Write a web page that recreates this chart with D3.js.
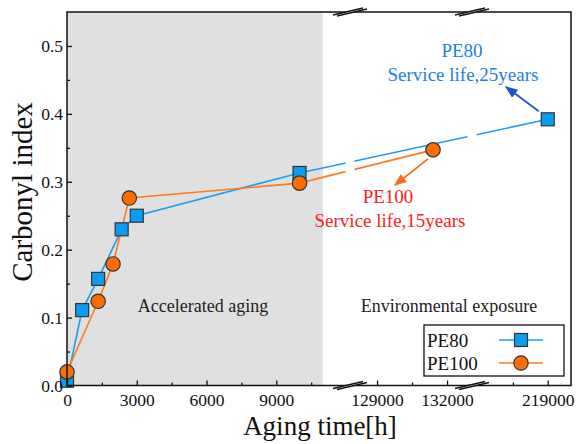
<!DOCTYPE html>
<html>
<head>
<meta charset="utf-8">
<script src="https://d3js.org/d3.v7.min.js"></script>
<style>
  body { margin: 0; background: #fff; }
  text { font-family: "Liberation Serif", "Times New Roman", serif; }
</style>
</head>
<body>
<div id="place"></div>
<script>
// data
const pe80Time = [0, 650, 1340, 2350, 3000, 10000, 219000];
const pe80Index = [0.007, 0.111, 0.157, 0.230, 0.250, 0.313, 0.392];
const pe100Time = [0, 1340, 1980, 2680, 10000, 131400];
const pe100Index = [0.020, 0.124, 0.179, 0.276, 0.298, 0.347];

const xMajor = [0, 3000, 6000, 9000, 129000, 132000, 219000];
const xMinor = [1500, 4500, 7500, 10500, 130500, 217500];
const yMajor = [0, 0.1, 0.2, 0.3, 0.4, 0.5];
const yMinor = [0.05, 0.15, 0.25, 0.35, 0.45];

// broken x axis: three pieces
const xDomain = [0, 12170, 127840, 133070, 215740, 220000];
const acceleratedEnd = 11000;

const W = 579, H = 444;
const pLeft = 67, pRight = 571, pTop = 12, pBottom = 385.5;
const breakPx = [350, 472];

const svg = d3.select("#place").append("svg")
  .attr("width", W).attr("height", H);

const x = d3.scaleLinear()
  .domain(xDomain)
  .range([pLeft, breakPx[0], breakPx[0], breakPx[1], breakPx[1], pRight]);

const y = d3.scaleLinear()
  .domain([0, 0.55])
  .range([pBottom, pTop]);

// grey region for accelerated aging
svg.append("rect")
  .attr("x", pLeft).attr("y", pTop)
  .attr("width", x(acceleratedEnd) - pLeft)
  .attr("height", pBottom - pTop)
  .attr("fill", "#e0e0e0");

// clip lines so they show a gap at each axis break
const gap = 4.5;
const clip = svg.append("clipPath").attr("id", "segs");
const edges = [pLeft, breakPx[0], breakPx[1], pRight];
for (let i = 0; i < 3; i++) {
  const a = i === 0 ? 0 : edges[i] + gap;
  const b = i === 2 ? W : edges[i + 1] - gap;
  clip.append("rect").attr("x", a).attr("y", 0).attr("width", b - a).attr("height", H);
}

const blue = "#1a9ff0", orange = "#ff7a1e";
const line = d3.line().x(d => x(d[0])).y(d => y(d[1]));
const pe80 = pe80Time.map((t, i) => [t, pe80Index[i]]);
const pe100 = pe100Time.map((t, i) => [t, pe100Index[i]]);

svg.append("path").datum(pe80)
  .attr("d", line).attr("fill", "none")
  .attr("stroke", blue).attr("stroke-width", 1.6)
  .attr("clip-path", "url(#segs)");
svg.append("path").datum(pe100)
  .attr("d", line).attr("fill", "none")
  .attr("stroke", orange).attr("stroke-width", 1.6)
  .attr("clip-path", "url(#segs)");

// markers
const sq = 13, rc = 7.2;
svg.append("g").selectAll("rect")
  .data(pe80).enter().append("rect")
  .attr("x", d => x(d[0]) - sq / 2)
  .attr("y", d => y(d[1]) - sq / 2)
  .attr("width", sq).attr("height", sq)
  .attr("fill", "#0a9cf2").attr("stroke", "#333").attr("stroke-width", 1.2);
svg.append("g").selectAll("circle")
  .data(pe100).enter().append("circle")
  .attr("cx", d => x(d[0]))
  .attr("cy", d => y(d[1]))
  .attr("r", rc)
  .attr("fill", "#ff6c00").attr("stroke", "#333").attr("stroke-width", 1.2);

// region labels
svg.append("text").attr("x", 203).attr("y", 312)
  .attr("text-anchor", "middle").attr("font-size", 18).attr("fill", "#222")
  .text("Accelerated aging");
svg.append("text").attr("x", 449).attr("y", 312)
  .attr("text-anchor", "middle").attr("font-size", 18).attr("fill", "#222")
  .text("Environmental exposure");

// arrow heads
const defs = svg.append("defs");
function marker(id, col) {
  defs.append("marker").attr("id", id)
    .attr("viewBox", "0 0 10 10").attr("refX", 9).attr("refY", 5)
    .attr("markerWidth", 7).attr("markerHeight", 7)
    .attr("orient", "auto")
    .append("path").attr("d", "M0,1 L10,5 L0,9 Z").attr("fill", col);
}
marker("ab", "#1f55c8");
marker("ao", "#f07020");

// PE80 note
svg.append("text").attr("x", 462).attr("y", 57)
  .attr("text-anchor", "middle").attr("font-size", 19).attr("fill", "#1c7fe6")
  .text("PE80");
svg.append("text").attr("x", 463).attr("y", 81)
  .attr("text-anchor", "middle").attr("font-size", 19).attr("fill", "#1c7fe6")
  .text("Service life,25years");
svg.append("line")
  .attr("x1", x(219000) - 9).attr("y1", y(0.392) - 8)
  .attr("x2", 506).attr("y2", 87)
  .attr("stroke", "#1f55c8").attr("stroke-width", 1.8)
  .attr("marker-end", "url(#ab)");

// PE100 note
svg.append("text").attr("x", 388).attr("y", 203)
  .attr("text-anchor", "middle").attr("font-size", 19).attr("fill", "#ff2020")
  .text("PE100");
svg.append("text").attr("x", 390).attr("y", 227)
  .attr("text-anchor", "middle").attr("font-size", 19).attr("fill", "#ff2020")
  .text("Service life,15years");
svg.append("line")
  .attr("x1", x(131400) - 5).attr("y1", y(0.347) + 9)
  .attr("x2", 395).attr("y2", 185)
  .attr("stroke", "#f07020").attr("stroke-width", 1.8)
  .attr("marker-end", "url(#ao)");

// frame
svg.append("rect")
  .attr("x", pLeft).attr("y", pTop)
  .attr("width", pRight - pLeft).attr("height", pBottom - pTop)
  .attr("fill", "none").attr("stroke", "#111").attr("stroke-width", 1.5);

// axes, ticks pointing inwards
svg.append("g").attr("transform", `translate(0,${pBottom})`)
  .call(d3.axisBottom(x).tickValues(xMajor).tickSize(-5).tickPadding(8)
    .tickFormat(d3.format("d")));
svg.append("g").attr("transform", `translate(0,${pBottom})`)
  .call(d3.axisBottom(x).tickValues(xMinor).tickSize(-3).tickFormat(""));
svg.append("g").attr("transform", `translate(${pLeft},0)`)
  .call(d3.axisLeft(y).tickValues(yMajor).tickSize(-5).tickPadding(4)
    .tickFormat(d3.format(".1f")));
svg.append("g").attr("transform", `translate(${pLeft},0)`)
  .call(d3.axisLeft(y).tickValues(yMinor).tickSize(-3).tickFormat(""));

svg.selectAll(".domain").remove();
svg.selectAll(".tick line").attr("stroke", "#111").attr("stroke-width", 1.3);
svg.selectAll(".tick text")
  .attr("font-family", "Liberation Serif, serif")
  .attr("font-size", 17.5).attr("fill", "#111");

// break marks on top and bottom edges
[pTop, pBottom].forEach(ey => {
  breakPx.forEach(bx => {
    svg.append("path")
      .attr("d", `M${bx - 17},${ey + 3} L${bx + 13},${ey - 4} L${bx + 17},${ey - 3} L${bx - 13},${ey + 4} Z`)
      .attr("fill", "#fff").attr("stroke", "none");
    svg.append("line").attr("x1", bx - 17).attr("y1", ey + 3)
      .attr("x2", bx + 13).attr("y2", ey - 4)
      .attr("stroke", "#111").attr("stroke-width", 1.3);
    svg.append("line").attr("x1", bx - 13).attr("y1", ey + 4)
      .attr("x2", bx + 17).attr("y2", ey - 3)
      .attr("stroke", "#111").attr("stroke-width", 1.3);
  });
});

// axis titles
svg.append("text")
  .attr("x", 320).attr("y", 435)
  .attr("text-anchor", "middle").attr("font-size", 27).attr("fill", "#111")
  .text("Aging time[h]");
svg.append("text")
  .attr("transform", "translate(32,192) rotate(-90)")
  .attr("text-anchor", "middle").attr("font-size", 29).attr("fill", "#111")
  .text("Carbonyl index");

// legend
const lg = svg.append("g");
lg.append("rect").attr("x", 424).attr("y", 325)
  .attr("width", 140).attr("height", 51)
  .attr("fill", "#fff").attr("stroke", "#111").attr("stroke-width", 1.3);
const items = [
  { name: "PE80", col: blue, fill: "#0a9cf2", shape: "square" },
  { name: "PE100", col: orange, fill: "#ff6c00", shape: "circle" }
];
items.forEach((it, i) => {
  const cy = 340 + i * 23;
  lg.append("text").attr("x", 427).attr("y", cy + 7)
    .attr("font-size", 19).attr("fill", "#111").text(it.name);
  lg.append("line").attr("x1", 499).attr("x2", 543)
    .attr("y1", cy).attr("y2", cy)
    .attr("stroke", it.col).attr("stroke-width", 1.6);
  if (it.shape === "square") {
    lg.append("rect").attr("x", 521 - sq / 2).attr("y", cy - sq / 2)
      .attr("width", sq).attr("height", sq)
      .attr("fill", it.fill).attr("stroke", "#333").attr("stroke-width", 1.2);
  } else {
    lg.append("circle").attr("cx", 521).attr("cy", cy).attr("r", rc)
      .attr("fill", it.fill).attr("stroke", "#333").attr("stroke-width", 1.2);
  }
});
</script>
</body>
</html>
